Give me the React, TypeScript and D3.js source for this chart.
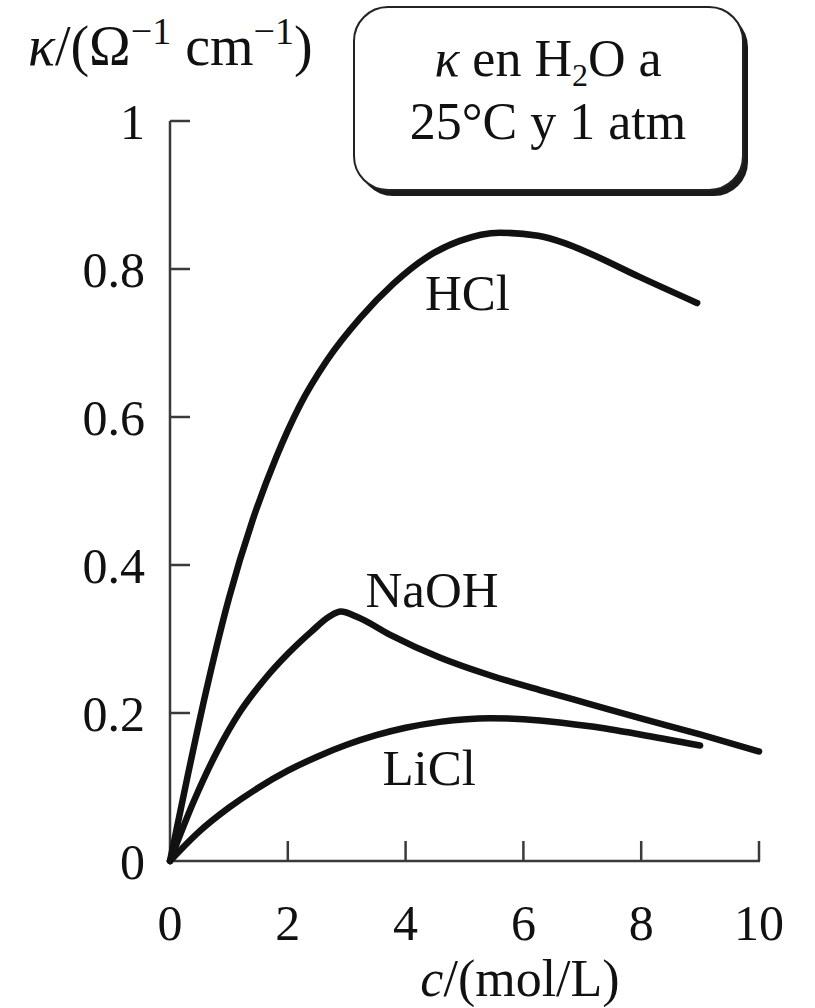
import React from "react";
import * as d3 from "d3";

const xTicks = [0, 2, 4, 6, 8, 10];
const yTicks = [0, 0.2, 0.4, 0.6, 0.8, 1];
const yTickLabels = ["0", "0.2", "0.4", "0.6", "0.8", "1"];

const hclC = [0, 0.3, 0.6, 1.0, 1.4, 1.8, 2.2, 2.66, 3.23, 3.79, 4.36, 4.92, 5.6, 6.25, 6.7, 7.13, 7.98, 8.95];
const hclK = [0, 0.115, 0.225, 0.355, 0.46, 0.545, 0.615, 0.676, 0.734, 0.78, 0.816, 0.838, 0.849, 0.845, 0.835, 0.821, 0.789, 0.754];

const naohC = [0, 0.4, 0.8, 1.2, 1.6, 2.0, 2.4, 2.7, 2.9, 3.2, 3.73, 4.58, 5.43, 6.28, 7.13, 7.98, 9.0, 10.0];
const naohK = [0, 0.08, 0.148, 0.203, 0.245, 0.28, 0.31, 0.33, 0.337, 0.329, 0.306, 0.275, 0.251, 0.231, 0.212, 0.193, 0.171, 0.148];

const liclC = [0, 0.5, 1.0, 1.5, 2.0, 2.5, 3.0, 3.5, 4.0, 4.58, 5.43, 6.28, 7.13, 7.98, 9.0];
const liclK = [0, 0.04, 0.072, 0.099, 0.122, 0.141, 0.157, 0.17, 0.18, 0.188, 0.193, 0.19, 0.182, 0.171, 0.156];

const seriesNames = ["HCl", "NaOH", "LiCl"];
const labelPos = [
  [5.05, 0.745],
  [4.45, 0.343],
  [4.4, 0.103],
];

const W = 815;
const H = 1008;
const FONT = "'Liberation Serif', 'Times New Roman', serif";

export default function App() {
  const x = d3.scaleLinear().domain([0, 10]).range([170, 759]);
  const y = d3.scaleLinear().domain([0, 1]).range([861, 121]);
  const line = d3
    .line<[number, number]>()
    .x((d) => x(d[0]))
    .y((d) => y(d[1]))
    .curve(d3.curveMonotoneX);

  const series = [
    hclC.map((c, i) => [c, hclK[i]] as [number, number]),
    naohC.map((c, i) => [c, naohK[i]] as [number, number]),
    liclC.map((c, i) => [c, liclK[i]] as [number, number]),
  ];

  const axisColor = "#3a3a3a";

  return (
    <svg
      width={W}
      height={H}
      viewBox={`0 0 ${W} ${H}`}
      style={{ position: "absolute", left: 0, top: 0, background: "#fff" }}
      fontFamily={FONT}
    >
      {/* y axis */}
      <line x1={x(0)} x2={x(0)} y1={y(0)} y2={y(1)} stroke={axisColor} strokeWidth={2.5} />
      {yTicks.slice(1).map((t) => (
        <line key={"yt" + t} x1={x(0)} x2={x(0) + 20} y1={y(t)} y2={y(t)} stroke={axisColor} strokeWidth={2.5} />
      ))}
      {yTicks.map((t, i) => (
        <text key={"yl" + t} x={x(0) - 25} y={y(t)} dy="0.36em" textAnchor="end" fontSize={50} fill="#111">
          {yTickLabels[i]}
        </text>
      ))}
      {/* x axis */}
      <line x1={x(0) - 1} x2={x(10) + 1} y1={y(0)} y2={y(0)} stroke={axisColor} strokeWidth={2.5} />
      {xTicks.slice(1).map((t) => (
        <line key={"xt" + t} x1={x(t)} x2={x(t)} y1={y(0)} y2={y(0) - 20} stroke={axisColor} strokeWidth={2.5} />
      ))}
      {xTicks.map((t) => (
        <text key={"xl" + t} x={x(t)} y={940} textAnchor="middle" fontSize={50} fill="#111">
          {String(t)}
        </text>
      ))}
      <text x={520} y={996} textAnchor="middle" fontSize={52} fill="#111">
        <tspan fontStyle="italic">c</tspan>/(mol/L)
      </text>

      {/* y title */}
      <text x={28} y={65} fontSize={56} fill="#111">
        <tspan fontStyle="italic">κ</tspan>/(Ω
        <tspan fontSize={38} dy={-21}>−1</tspan>
        <tspan dy={21}> cm</tspan>
        <tspan fontSize={38} dy={-21}>−1</tspan>
        <tspan dy={21}>)</tspan>
      </text>

      {/* box */}
      <rect x={359} y={13} width={389} height={183} rx={34} ry={34} fill="#1a1a1a" />
      <rect x={354} y={7} width={389} height={183} rx={34} ry={34} fill="#fff" stroke="#222" strokeWidth={2} />
      <text x={548} y={76} textAnchor="middle" fontSize={52} fill="#111">
        <tspan fontStyle="italic">κ</tspan> en H
        <tspan fontSize={32} dy={10}>2</tspan>
        <tspan dy={-10}>O a</tspan>
      </text>
      <text x={548} y={139} textAnchor="middle" fontSize={52} fill="#111">
        25°C y 1 atm
      </text>

      {/* curves */}
      {series.map((s, i) => (
        <path
          key={seriesNames[i]}
          d={line(s) || ""}
          fill="none"
          stroke="#111"
          strokeWidth={6.5}
          strokeLinecap="round"
          strokeLinejoin="round"
        />
      ))}
      {seriesNames.map((n, i) => (
        <text
          key={"lab" + n}
          x={x(labelPos[i][0])}
          y={y(labelPos[i][1])}
          textAnchor="middle"
          fontSize={51}
          fill="#111"
        >
          {n}
        </text>
      ))}
    </svg>
  );
}
